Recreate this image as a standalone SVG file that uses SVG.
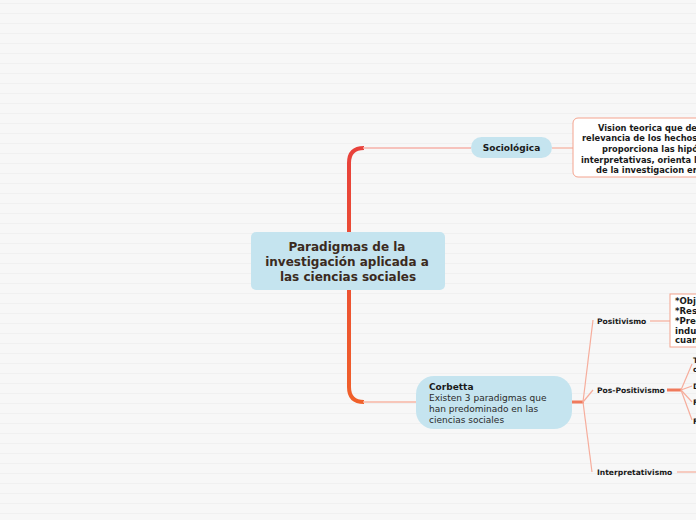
<svg xmlns="http://www.w3.org/2000/svg" width="696" height="520" viewBox="0 0 696 520">
<defs>
<pattern id="lines" x="0" y="0" width="696" height="10" patternUnits="userSpaceOnUse">
<rect width="696" height="10" fill="#f7f7f7"/>
<rect y="3" width="696" height="1" fill="#f0f0f0"/>
</pattern>
<linearGradient id="trunk" x1="0" y1="148" x2="0" y2="402" gradientUnits="userSpaceOnUse">
<stop offset="0" stop-color="#e8413b"/>
<stop offset="1" stop-color="#f0602a"/>
</linearGradient>
</defs>
<style>
.bold{font-family:"DejaVu Sans",Verdana,sans-serif;font-weight:bold;fill:#1a1a1a}
.norm{font-family:"DejaVu Sans",Verdana,sans-serif;fill:#2a2a2a}
.thin{fill:none;stroke:#f6ad9c;stroke-width:1.2}
.box{fill:#ffffff;stroke:#f4a38e;stroke-width:1}
.blue{fill:#c5e4ef}
</style>
<rect width="696" height="520" fill="url(#lines)"/>
<g id="connectors">
<path d="M349 275 L349 163 Q349 148 364 148" fill="none" stroke="url(#trunk)" stroke-width="4"/>
<path d="M349 275 L349 387 Q349 402 364 402" fill="none" stroke="url(#trunk)" stroke-width="4"/>
<line x1="363" y1="148" x2="471" y2="148" stroke="#f6b0a8" stroke-width="1.5"/>
<line x1="363" y1="402" x2="416" y2="402" stroke="#f7b6a4" stroke-width="1.5"/>
<line x1="552" y1="148" x2="573" y2="148" class="thin"/>
<line x1="572" y1="402" x2="584" y2="402" stroke="#f07a5c" stroke-width="3"/>
<path d="M583 402 L593 320" class="thin"/>
<path d="M583 402 L593 390" class="thin"/>
<path d="M583 402 L592 472" class="thin"/>
<line x1="650" y1="321" x2="670" y2="321" class="thin"/>
<line x1="677" y1="472" x2="696" y2="472" class="thin"/>
<line x1="667" y1="390" x2="682" y2="390" stroke="#f07a5c" stroke-width="3"/>
<path d="M681 390 L692 364" class="thin"/>
<path d="M681 390 L692 386" class="thin"/>
<path d="M681 390 L692 402" class="thin"/>
<path d="M681 390 L692 420" class="thin"/>
</g>
<g id="central">
<rect x="251" y="232" width="194" height="58" rx="5" class="blue"/>
<text class="bold" font-size="12" text-anchor="middle" style="fill:#3b2a20"><tspan x="347" y="251">Paradigmas de la</tspan><tspan x="347" y="266">investigación aplicada a</tspan><tspan x="348" y="281">las ciencias sociales</tspan></text>
</g>
<g id="sociologica">
<rect x="471" y="137" width="81" height="21" rx="10.5" class="blue"/>
<text class="bold" font-size="9" x="511.5" y="151" text-anchor="middle">Sociológica</text>
</g>
<g id="vision">
<rect x="573" y="118" width="140" height="59" rx="5" class="box"/>
<text class="bold" font-size="8.3"><tspan x="598" y="131">Vision teorica que define la</tspan><tspan x="582" y="141">relevancia de los hechos sociales,</tspan><tspan x="602" y="152">proporciona las hipótesis</tspan><tspan x="581" y="163">interpretativas, orienta las técnicas</tspan><tspan x="596" y="173">de la investigacion empírica</tspan></text>
</g>
<g id="corbetta">
<rect x="416" y="376" width="156" height="53" rx="18" class="blue"/>
<text class="bold" font-size="9" x="429" y="390">Corbetta</text>
<text class="norm" font-size="9"><tspan x="429" y="401">Existen 3 paradigmas que</tspan><tspan x="429" y="412">han predominado en las</tspan><tspan x="429" y="423">ciencias sociales</tspan></text>
</g>
<g id="positivismo">
<text class="bold" font-size="7.6" x="597" y="324">Positivismo</text>
</g>
<g id="positivismo-detalle">
<rect x="670" y="294" width="60" height="53" class="box"/>
<text class="bold" font-size="8.6"><tspan x="675" y="304">*Objetividad</tspan><tspan x="675" y="314">*Resultados</tspan><tspan x="675" y="324">*Predominio</tspan><tspan x="675" y="334">inductivo</tspan><tspan x="675" y="343">cuantitativo</tspan></text>
</g>
<g id="pos-positivismo">
<text class="bold" font-size="7.6" x="597" y="393">Pos-Positivismo</text>
</g>
<g id="pos-sub-1"><text class="bold" font-size="7.6"><tspan x="693" y="363">Teoría</tspan><tspan x="693" y="372">crítica</tspan></text></g>
<g id="pos-sub-2"><text class="bold" font-size="7.6" x="693" y="389">Deductivo</text></g>
<g id="pos-sub-3"><text class="bold" font-size="7.6" x="693" y="405">Falsación</text></g>
<g id="pos-sub-4"><text class="bold" font-size="7.6" x="693" y="424">Fiabilidad</text></g>
<g id="interpretativismo">
<text class="bold" font-size="7.6" x="597" y="475">Interpretativismo</text>
</g>
</svg>
